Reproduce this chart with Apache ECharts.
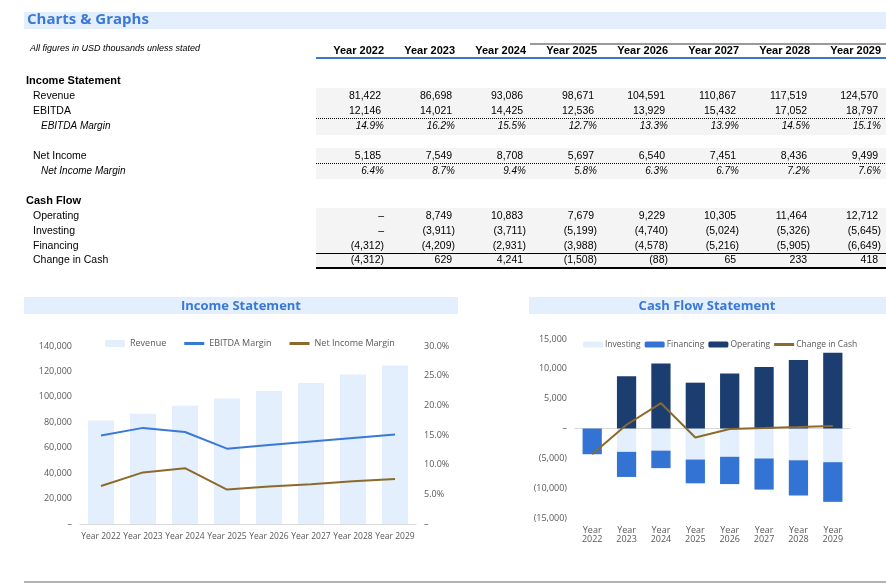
<!DOCTYPE html>
<html><head><meta charset="utf-8">
<script src="https://cdn.jsdelivr.net/npm/echarts@6/dist/echarts.min.js"></script>
<style>html,body{margin:0;background:#fff}#c{width:886px;height:584px}</style>
</head><body><div id="c"></div>
<script>
var years = ['Year 2022','Year 2023','Year 2024','Year 2025','Year 2026','Year 2027','Year 2028','Year 2029'];
var revenue = [81422, 86698, 93086, 98671, 104591, 110867, 117519, 124570];
var ebitda = [12146, 14021, 14425, 12536, 13929, 15432, 17052, 18797];
var ebitdaMargin = [14.9, 16.2, 15.5, 12.7, 13.3, 13.9, 14.5, 15.1];
var netIncome = [5185, 7549, 8708, 5697, 6540, 7451, 8436, 9499];
var netMargin = [6.4, 8.7, 9.4, 5.8, 6.3, 6.7, 7.2, 7.6];
var operating = [0, 8749, 10883, 7679, 9229, 10305, 11464, 12712];
var investing = [0, -3911, -3711, -5199, -4740, -5024, -5326, -5645];
var financing = [-4312, -4209, -2931, -3988, -4578, -5216, -5905, -6649];
var changeCash = [-4312, 629, 4241, -1508, -88, 65, 233, 418];

var FONT = 'Liberation Sans';
function num(v) {
    if (v === 0) return '–';
    var s = Math.abs(v).toLocaleString('en-US');
    return v < 0 ? '(' + s + ')' : s + ' ';
}
function pct(v) { return v.toFixed(1) + '%'; }

var g = [];
// title band
g.push({type: 'rect', shape: {x: 24, y: 12, width: 862, height: 17}, style: {fill: '#e3effc'}});
g.push({type: 'text', left: 27, top: 12, style: {text: 'Charts & Graphs', font: 'bold 15px "Open Sans"', fill: '#3a78d8'}});
g.push({type: 'text', left: 30, top: 44, style: {text: 'All figures in USD thousands unless stated', font: 'italic 9px ' + FONT, fill: '#000'}});
g.push({type: 'rect', shape: {x: 316, y: 57, width: 570, height: 2}, style: {fill: '#3a78d8'}});
g.push({type: 'line', shape: {x1: 530, y1: 44, x2: 886, y2: 44}, style: {stroke: '#000', lineWidth: 0.8}});
// grey row bands
[[88, 47], [148, 31], [208, 60]].forEach(function (b) {
    g.push({type: 'rect', shape: {x: 316, y: b[0], width: 570, height: b[1]}, style: {fill: '#f4f4f4'}});
});
g.push({type: 'line', shape: {x1: 316, y1: 118.5, x2: 886, y2: 118.5}, style: {stroke: '#000', lineDash: [1, 1]}});
g.push({type: 'line', shape: {x1: 316, y1: 163.5, x2: 886, y2: 163.5}, style: {stroke: '#000', lineDash: [1, 1]}});
g.push({type: 'line', shape: {x1: 316, y1: 253.5, x2: 886, y2: 253.5}, style: {stroke: '#000', lineWidth: 1}});
g.push({type: 'line', shape: {x1: 316, y1: 268, x2: 886, y2: 268}, style: {stroke: '#000', lineWidth: 2}});

function label(txt, x, y, font) {
    g.push({type: 'text', x: x, y: y, style: {text: txt, font: font, fill: '#000', textVerticalAlign: 'middle'}});
}
function rowVals(vals, y, fmt, font) {
    vals.forEach(function (v, i) {
        g.push({type: 'text', x: 384 + i * 71, y: y, style: {text: fmt(v), font: font, fill: '#000', textAlign: 'right', textVerticalAlign: 'middle'}});
    });
}
years.forEach(function (yr, i) {
    g.push({type: 'text', x: 384 + i * 71, y: 51, style: {text: yr, font: 'bold 11px ' + FONT, fill: '#000', textAlign: 'right', textVerticalAlign: 'middle'}});
});
var nf = '10.5px ' + FONT, itf = 'italic 10px ' + FONT, bf = 'bold 11px ' + FONT;
label('Income Statement', 26, 81, bf);
label('Revenue', 33, 96, nf); rowVals(revenue, 96, num, nf);
label('EBITDA', 33, 111, nf); rowVals(ebitda, 111, num, nf);
label('EBITDA Margin', 41, 126, itf); rowVals(ebitdaMargin, 126, pct, itf);
label('Net Income', 33, 156, nf); rowVals(netIncome, 156, num, nf);
label('Net Income Margin', 41, 171, itf); rowVals(netMargin, 171, pct, itf);
label('Cash Flow', 26, 201, bf);
label('Operating', 33, 216, nf); rowVals(operating, 216, num, nf);
label('Investing', 33, 231, nf); rowVals(investing, 231, num, nf);
label('Financing', 33, 246, nf); rowVals(financing, 246, num, nf);
label('Change in Cash', 33, 260, nf); rowVals(changeCash, 260, num, nf);

// chart title bands
g.push({type: 'rect', shape: {x: 24, y: 297, width: 434, height: 17}, style: {fill: '#e3effc'}});
g.push({type: 'text', x: 241, y: 306, style: {text: 'Income Statement', font: 'bold 13px "Open Sans"', fill: '#3a78d8', textAlign: 'center', textVerticalAlign: 'middle'}});
g.push({type: 'rect', shape: {x: 529, y: 297, width: 357, height: 17}, style: {fill: '#e3effc'}});
g.push({type: 'text', x: 707, y: 306, style: {text: 'Cash Flow Statement', font: 'bold 13px "Open Sans"', fill: '#3a78d8', textAlign: 'center', textVerticalAlign: 'middle'}});
g.push({type: 'line', shape: {x1: 24, y1: 582, x2: 886, y2: 582}, style: {stroke: '#000', lineWidth: 0.6}});

var axLab = {color: '#595959', fontSize: 9, fontFamily: 'Open Sans'};
function kfmt(v) { return v === 0 ? '–' : num(v).trim(); }
var lineIcon = 'path://M0,0H20V3H0Z';

var chart = echarts.init(document.getElementById('c'));
chart.setOption({
    animation: false,
    graphic: g,
    textStyle: {fontFamily: 'Open Sans'},
    legend: [
        {left: 100, top: 334, itemWidth: 20, itemHeight: 7, itemGap: 18, textStyle: {fontSize: 9, color: '#595959'},
            data: ['Revenue', {name: 'EBITDA Margin', icon: lineIcon}, {name: 'Net Income Margin', icon: lineIcon}]},
        {left: 578, top: 335, itemWidth: 20, itemHeight: 6, itemGap: 4, textStyle: {fontSize: 8.5, color: '#595959', padding: [0, 0, 0, -3]},
            data: ['Investing', 'Financing', 'Operating', {name: 'Change in Cash', icon: lineIcon}]}
    ],
    grid: [
        {left: 80, top: 346, width: 336, height: 178},
        {left: 575, top: 339, width: 275, height: 179}
    ],
    xAxis: [
        {type: 'category', gridIndex: 0, data: years, axisTick: {show: false}, axisLine: {lineStyle: {color: '#d9d9d9'}},
            axisLabel: {color: '#595959', fontSize: 8.5, interval: 0, margin: 8}},
        {type: 'category', gridIndex: 1, data: years, axisTick: {show: false}, axisLine: {onZero: true, lineStyle: {color: '#d9d9d9'}},
            axisLabel: {show: false}},
        {type: 'category', gridIndex: 1, data: years, position: 'bottom', axisTick: {show: false}, axisLine: {show: false},
            axisLabel: {color: '#595959', fontSize: 9, interval: 0, margin: 8, formatter: function (v) { return v.replace(' ', '\n'); }}}
    ],
    yAxis: [
        {type: 'value', gridIndex: 0, min: 0, max: 140000, interval: 20000, splitLine: {show: false},
            axisLabel: Object.assign({formatter: kfmt}, axLab)},
        {type: 'value', gridIndex: 0, min: 0, max: 30, interval: 5, splitLine: {show: false},
            axisLabel: Object.assign({formatter: function (v) { return v === 0 ? '–' : v.toFixed(1) + '%'; }, fontSize: 8}, axLab)},
        {type: 'value', gridIndex: 1, min: -15000, max: 15000, interval: 5000, splitLine: {show: false},
            axisLabel: Object.assign({formatter: kfmt}, axLab)}
    ],
    series: [
        {name: 'Revenue', type: 'bar', xAxisIndex: 0, yAxisIndex: 0, data: revenue, barWidth: '62%', itemStyle: {color: '#e3effc'}},
        {name: 'EBITDA Margin', type: 'line', xAxisIndex: 0, yAxisIndex: 1, data: ebitdaMargin, symbol: 'none', lineStyle: {color: '#3a78d8', width: 2}, itemStyle: {color: '#3a78d8'}},
        {name: 'Net Income Margin', type: 'line', xAxisIndex: 0, yAxisIndex: 1, data: netMargin, symbol: 'none', lineStyle: {color: '#8b6a2b', width: 2}, itemStyle: {color: '#8b6a2b'}},
        {name: 'Investing', type: 'bar', xAxisIndex: 1, yAxisIndex: 2, stack: 'cf', data: investing, barWidth: '56%', itemStyle: {color: '#e3effc'}},
        {name: 'Financing', type: 'bar', xAxisIndex: 1, yAxisIndex: 2, stack: 'cf', data: financing, barWidth: '56%', itemStyle: {color: '#3273d4'}},
        {name: 'Operating', type: 'bar', xAxisIndex: 1, yAxisIndex: 2, stack: 'cf', data: operating, barWidth: '56%', itemStyle: {color: '#1b3d6f'}},
        {name: 'Change in Cash', type: 'line', xAxisIndex: 1, yAxisIndex: 2, data: changeCash, symbol: 'none', lineStyle: {color: '#8b6a2b', width: 2}, itemStyle: {color: '#8b6a2b'}}
    ]
});
</script></body></html>
